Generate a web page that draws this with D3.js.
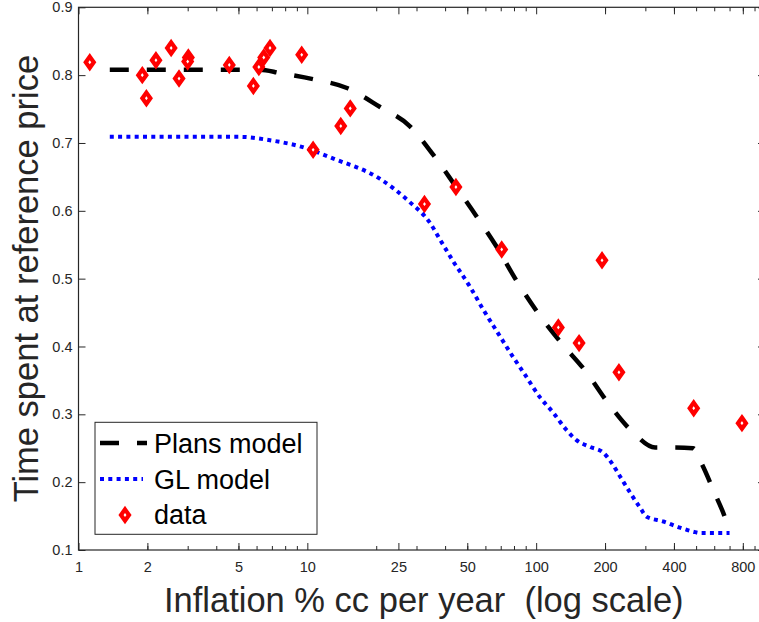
<!DOCTYPE html>
<html lang="en">
<head>
<meta charset="utf-8">
<style>
body { margin:0; background:white; }
svg text { font-family: "Liberation Sans", Arial, Helvetica, sans-serif; }
</style>
<script src="https://cdn.jsdelivr.net/npm/d3@7"></script>
</head>
<body>
<div id="chart"></div>
<script>

var width = 759
var height = 622

// tick labels
var xTicks = [1, 2, 5, 10, 25, 50, 100, 200, 400, 800]
var yTicks = [0.1, 0.2, 0.3, 0.4, 0.5, 0.6, 0.7, 0.8, 0.9]

// observed data (inflation %, share of time at reference price)
var dataX = [1.12, 1.90, 1.98, 2.18, 2.54, 2.75, 3.02, 3.00, 4.56, 5.81, 6.14, 6.45, 6.87, 9.45,
             10.6, 14.0, 15.4, 32.5, 44.6, 70.7, 194, 125, 154, 230, 488, 793]
var dataY = [0.819, 0.800, 0.766, 0.822, 0.840, 0.795, 0.826, 0.820, 0.815, 0.784, 0.812, 0.826, 0.840, 0.830,
             0.690, 0.725, 0.751, 0.610, 0.635, 0.543, 0.527, 0.428, 0.405, 0.362, 0.309, 0.287]

// Plans model
var plansX = [1.37, 6.2, 7.6, 10.6, 14.9, 20.8, 28.0, 35.6, 44.3, 55.1, 67.2, 82.4, 102, 129, 165, 207, 264,
              331, 397, 485, 531, 595, 682, 700]
var plansY = [0.808, 0.808, 0.803, 0.794, 0.781, 0.753, 0.725, 0.682, 0.637, 0.591, 0.547, 0.496, 0.449, 0.405,
              0.363, 0.316, 0.274, 0.251, 0.251, 0.250, 0.226, 0.188, 0.139, 0.126]

// GL model
var glX = [1.37, 5.08, 6.87, 9.29, 13.0, 20.8, 28.0, 34.4, 38.1, 43.5, 51.4, 58.8, 68.3, 78.4, 89.5, 104, 119,
           134, 150, 172, 196, 214, 233, 258, 285, 304, 360, 425, 486, 522, 700]
var glY = [0.709, 0.709, 0.704, 0.695, 0.677, 0.647, 0.613, 0.582, 0.557, 0.525, 0.488, 0.454, 0.419, 0.387,
           0.358, 0.325, 0.302, 0.279, 0.262, 0.252, 0.244, 0.228, 0.208, 0.184, 0.162, 0.149, 0.142, 0.133,
           0.127, 0.125, 0.125]

var minorTicks = []
;[1, 10, 100].forEach(function(d) {
  for (var k = 2; k <= 9; k++) minorTicks.push(d * k)
})

// plot box (right edge falls just outside the window, as in the original)
var pLeft = 78.5, pRight = 765, pTop = 7.3, pBottom = 550
var axisColor = "#262626"

var x = d3.scaleLog().domain([1, 1000]).range([pLeft, pRight])
var y = d3.scaleLinear().domain([0.1, 0.9]).range([pBottom, pTop])

var svg = d3.select("#chart").append("svg")
    .attr("width", width)
    .attr("height", height)

// model curves
var line = d3.line()
    .x(function(d) { return x(d[0]) })
    .y(function(d) { return y(d[1]) })
    .curve(d3.curveMonotoneX)

svg.append("path")
    .datum(plansX.map(function(v, i) { return [v, plansY[i]] }))
    .attr("d", line)
    .attr("fill", "none")
    .attr("stroke", "#000")
    .attr("stroke-width", 4.5)
    .attr("stroke-dasharray", "19 18")

svg.append("path")
    .datum(glX.map(function(v, i) { return [v, glY[i]] }))
    .attr("d", line)
    .attr("fill", "none")
    .attr("stroke", "#0000ff")
    .attr("stroke-width", 4)
    .attr("stroke-dasharray", "4 4.3")

// diamonds
var diamond = "M0,-5.6L4,0L0,5.6L-4,0Z"

svg.append("g").selectAll("path")
  .data(dataX.map(function(v, i) { return [v, dataY[i]] }))
  .enter().append("path")
    .attr("d", diamond)
    .attr("transform", function(d) { return "translate(" + x(d[0]) + "," + y(d[1]) + ")" })
    .attr("fill", "white")
    .attr("stroke", "#ff0000")
    .attr("stroke-width", 4.2)

// axes
function styleAxis(g) {
  g.select(".domain").remove()
  g.selectAll("line").attr("stroke", axisColor)
  g.selectAll("text").attr("fill", axisColor).style("font-size", "14.5px")
}

svg.append("g")
    .attr("transform", "translate(0," + pBottom + ")")
    .call(d3.axisBottom(x).tickValues(xTicks).tickFormat(d3.format("d")).tickSize(-7).tickPadding(12))
    .call(styleAxis)

svg.append("g")
    .attr("transform", "translate(0," + pBottom + ")")
    .call(d3.axisBottom(x).tickValues(minorTicks).tickFormat("").tickSize(-4))
    .call(styleAxis)

svg.append("g")
    .attr("transform", "translate(0," + pTop + ")")
    .call(d3.axisTop(x).tickValues(xTicks).tickFormat("").tickSize(-7))
    .call(styleAxis)

svg.append("g")
    .attr("transform", "translate(0," + pTop + ")")
    .call(d3.axisTop(x).tickValues(minorTicks).tickFormat("").tickSize(-4))
    .call(styleAxis)

svg.append("g")
    .attr("transform", "translate(" + pLeft + ",0)")
    .call(d3.axisLeft(y).tickValues(yTicks).tickFormat(d3.format(".1f")).tickSize(-7).tickPadding(6))
    .call(styleAxis)

svg.append("g")
    .attr("transform", "translate(" + pRight + ",0)")
    .call(d3.axisRight(y).tickValues(yTicks).tickFormat("").tickSize(-7))
    .call(styleAxis)

svg.append("rect")
    .attr("x", pLeft)
    .attr("y", pTop)
    .attr("width", pRight - pLeft)
    .attr("height", pBottom - pTop)
    .attr("fill", "none")
    .attr("stroke", axisColor)
    .attr("stroke-width", 1.2)

// axis labels
svg.append("text")
    .attr("x", (pLeft + pRight) / 2 + 2)
    .attr("y", 611.5)
    .attr("text-anchor", "middle")
    .attr("fill", axisColor)
    .style("font-size", "34.5px")
    .style("white-space", "pre")
    .text("Inflation % cc per year  (log scale)")

svg.append("text")
    .attr("transform", "translate(37.5," + ((pTop + pBottom) / 2) + ") rotate(-90)")
    .attr("text-anchor", "middle")
    .attr("fill", axisColor)
    .style("font-size", "34.5px")
    .text("Time spent at reference price")

// legend
var legend = svg.append("g")

legend.append("rect")
    .attr("x", 95)
    .attr("y", 422.3)
    .attr("width", 222)
    .attr("height", 112)
    .attr("fill", "white")
    .attr("stroke", axisColor)
    .attr("stroke-width", 1)

legend.append("line")
    .attr("x1", 100).attr("x2", 147)
    .attr("y1", 443).attr("y2", 443)
    .attr("stroke", "#000")
    .attr("stroke-width", 4.5)
    .attr("stroke-dasharray", "19 18")

legend.append("line")
    .attr("x1", 100).attr("x2", 143)
    .attr("y1", 479).attr("y2", 479)
    .attr("stroke", "#0000ff")
    .attr("stroke-width", 4)
    .attr("stroke-dasharray", "4 4.3")

legend.append("path")
    .attr("d", diamond)
    .attr("transform", "translate(125,515)")
    .attr("fill", "white")
    .attr("stroke", "#ff0000")
    .attr("stroke-width", 4.2)

legend.selectAll("text.item")
  .data(["Plans model", "GL model", "data"])
  .enter().append("text")
    .attr("class", "item")
    .attr("x", 154)
    .attr("y", function(d, i) { return [453, 489, 524][i] })
    .attr("fill", "#000")
    .style("font-size", "27px")
    .text(function(d) { return d })

</script>
</body>
</html>
